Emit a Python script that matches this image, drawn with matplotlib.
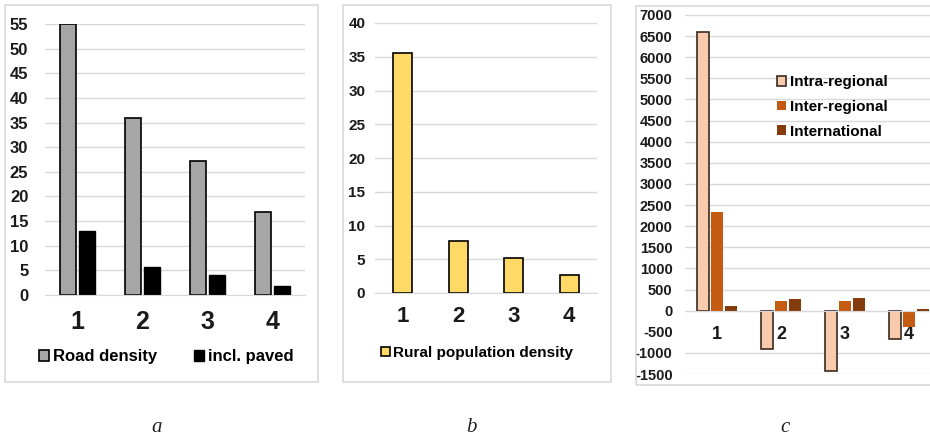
import numpy as np
import matplotlib
matplotlib.use("Agg")
import matplotlib.pyplot as plt
from matplotlib.patches import Rectangle

plt.rcParams['font.family'] = ['Liberation Sans', 'DejaVu Sans']
plt.rcParams['font.weight'] = 'bold'
plt.rcParams['axes.unicode_minus'] = False

categories = ['1', '2', '3', '4']

# panel a
road_density = [55, 36, 27.2, 16.8]
incl_paved = [13, 5.7, 4.1, 1.9]

# panel b
rural_pop_density = [35.5, 7.7, 5.2, 2.6]

# panel c
intra_regional = [6600, -900, -1430, -670]
inter_regional = [2330, 230, 230, -380]
international = [110, 270, 300, 50]

W, H = 930, 441
fig = plt.figure(figsize=(W / 100, H / 100), dpi=100)
fig.patch.set_facecolor('white')

GRID = '#D9D9D9'
TXT = '#1a1a1a'


def rect(x0, y0, x1, y1):
    # pixel box (top-left origin) -> figure fraction
    return [x0 / W, 1 - y1 / H, (x1 - x0) / W, (y1 - y0) / H]


def frame(x0, y0, x1, y1):
    r = Rectangle((x0 / W, 1 - y1 / H), (x1 - x0) / W, (y1 - y0) / H,
                  transform=fig.transFigure, fill=False, edgecolor=GRID, lw=1.2)
    fig.add_artist(r)


def style(ax, ylim, step, ypad, xpad, xsize, ysize):
    ax.set_ylim(*ylim)
    ax.set_yticks(np.arange(ylim[0], ylim[1] + step / 2, step))
    ax.yaxis.grid(True, color=GRID, lw=1)
    ax.set_axisbelow(True)
    for s in ['top', 'right', 'left']:
        ax.spines[s].set_visible(False)
    ax.spines['bottom'].set_color(GRID)
    ax.tick_params(axis='y', length=0, pad=ypad, labelsize=ysize, labelcolor=TXT)
    ax.tick_params(axis='x', length=0, pad=xpad, labelsize=xsize, labelcolor=TXT)
    ax.set_facecolor('none')


x = np.arange(len(categories))

# ---- a ----
frame(5, 5, 318, 382)
ax1 = fig.add_axes(rect(45, 24, 305, 295))
ax1.bar(x - 0.146, road_density, 0.246, color='#A6A6A6', edgecolor='black', lw=1.2,
        label='Road density')
ax1.bar(x + 0.146, incl_paved, 0.246, color='black', edgecolor='black', lw=1,
        label='incl. paved')
ax1.set_xlim(-0.5, 3.5)
ax1.set_xticks(x, categories)
style(ax1, (0, 55), 5, 12, 11, 18, 12)
ax1.legend(loc='center', bbox_to_anchor=(166 / W, 1 - 357 / H), bbox_transform=fig.transFigure,
           ncol=2, frameon=False, fontsize=12, handlelength=0.6, handleheight=0.6,
           handletextpad=0.25, columnspacing=2.2)

# ---- b ----
frame(343, 5, 611, 382)
ax2 = fig.add_axes(rect(375, 23, 597, 293))
ax2.bar(x, rural_pop_density, 0.34, color='#FFD966', edgecolor='black', lw=1.2,
        label='Rural population density')
ax2.set_xlim(-0.5, 3.5)
ax2.set_xticks(x, categories)
style(ax2, (0, 40), 5, 7, 9, 16, 11)
ax2.legend(loc='center', bbox_to_anchor=(477 / W, 1 - 353 / H), bbox_transform=fig.transFigure,
           frameon=False, fontsize=11, handlelength=0.6, handleheight=0.6,
           handletextpad=0.25)

# ---- c ----
frame(636, 6, 940, 385)
ax3 = fig.add_axes(rect(685, 15, 941, 374))
ax3.bar(x - 0.22, intra_regional, 0.19, color='#F8CBAD', edgecolor='#3C2A20', lw=1.2,
        label='Intra-regional')
ax3.bar(x, inter_regional, 0.19, color='#C55A11', label='Inter-regional')
ax3.bar(x + 0.22, international, 0.19, color='#843C0C', label='International')
ax3.set_xlim(-0.5, 3.5)
ax3.set_xticks(x, categories)
style(ax3, (-1500, 7000), 500, 9, 11, 13, 10.5)
ax3.spines['bottom'].set_position(('data', 0))
# the -500 gridline sits behind the category labels and is not visible in the source
ax3.get_ygridlines()[2].set_visible(False)
ax3.legend(loc='center', bbox_to_anchor=(832 / W, 1 - 107 / H), bbox_transform=fig.transFigure,
           frameon=False, fontsize=11, handlelength=0.6, handleheight=0.6,
           handletextpad=0.25, labelspacing=0.7)

# panel letters
for lab, px in [('a', 157), ('b', 471), ('c', 785)]:
    fig.text(px / W, 1 - 428 / H, lab, ha='center', va='center', fontsize=15,
             family=['Liberation Serif', 'DejaVu Serif'], style='italic',
             weight='normal', color='#222222')

fig.savefig('out.png', dpi=100)
